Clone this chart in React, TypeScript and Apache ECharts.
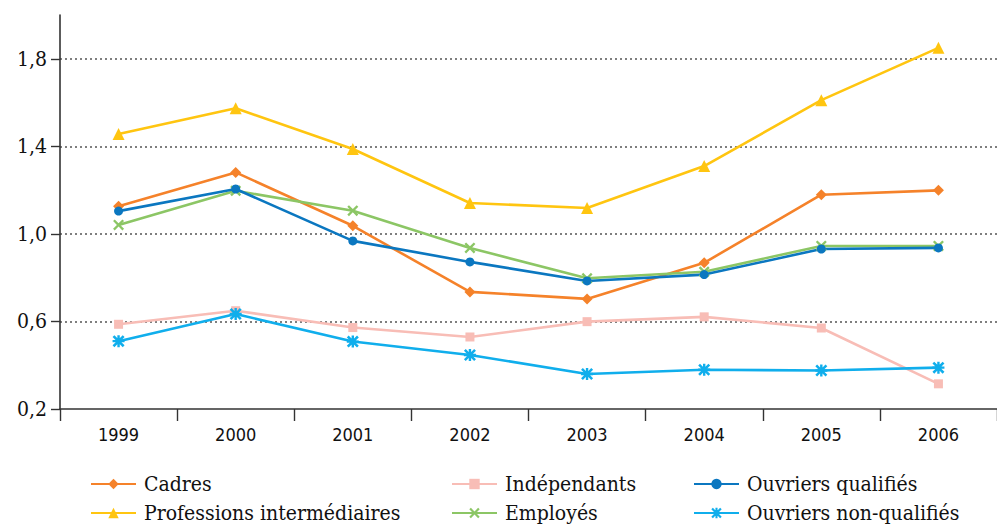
import { useEffect, useRef } from 'react';
import * as echarts from 'echarts';

// Categories and series values
const years = ['1999', '2000', '2001', '2002', '2003', '2004', '2005', '2006'];
const cadres = [1.126, 1.281, 1.037, 0.735, 0.703, 0.868, 1.179, 1.199];
const professions = [1.456, 1.574, 1.388, 1.141, 1.118, 1.31, 1.611, 1.85];
const independants = [0.587, 0.649, 0.572, 0.529, 0.599, 0.621, 0.57, 0.315];
const employes = [1.041, 1.197, 1.106, 0.936, 0.797, 0.827, 0.945, 0.945];
const ouvriersQualifies = [1.104, 1.205, 0.968, 0.872, 0.785, 0.814, 0.931, 0.936];
const ouvriersNonQualifies = [0.51, 0.634, 0.508, 0.447, 0.36, 0.379, 0.376, 0.389];

// Value axis: labelled ticks and the axis top
const yTicks = [0.2, 0.6, 1.0, 1.4, 1.8];
const yMax = 2.0;

const crossPath =
  'path://M0,1.5 L1.5,0 L5,3.5 L8.5,0 L10,1.5 L6.5,5 L10,8.5 L8.5,10 L5,6.5 L1.5,10 L0,8.5 L3.5,5 Z';
const asteriskPath =
  'path://M0,1.5 L1.5,0 L5,3.5 L8.5,0 L10,1.5 L6.5,5 L10,8.5 L8.5,10 L5,6.5 L1.5,10 L0,8.5 L3.5,5 Z ' +
  'M4,0 L6,0 L6,4 L10,4 L10,6 L6,6 L6,10 L4,10 L4,6 L0,6 L0,4 L4,4 Z';

const serifFont = '"DejaVu Serif Condensed", "DejaVu Serif", serif';
const sansFont = '"DejaVu Sans Condensed", "DejaVu Sans", sans-serif';

function lineSeries(name: string, data: number[], color: string, symbol: string, size: number) {
  return {
    name,
    type: 'line',
    data,
    symbol,
    symbolSize: size,
    showAllSymbol: true,
    lineStyle: { color, width: 2.6 },
    itemStyle: { color, borderWidth: 0 },
    emphasis: { disabled: true },
  };
}

export default function App() {
  const ref = useRef<HTMLDivElement>(null);

  useEffect(() => {
    if (!ref.current) return;
    const chart = echarts.init(ref.current, undefined, { renderer: 'svg' });

    const legendBase = {
      orient: 'vertical',
      top: 473,
      height: 60,
      padding: 0,
      itemWidth: 45,
      itemHeight: 13,
      itemGap: 7,
      selectedMode: false,
      textStyle: {
        fontFamily: serifFont,
        fontSize: 21,
        color: '#111',
        lineHeight: 22,
        padding: [0, 0, 0, 3],
      },
    };

    // one colour per split line: hidden at the axis bottom and at the top edge
    const gridColor = '#555';
    const splitColors = yTicks.map((_, i) => (i === 0 ? 'rgba(0,0,0,0)' : gridColor));
    splitColors.push('rgba(0,0,0,0)');

    chart.setOption({
      animation: false,
      backgroundColor: '#ffffff',
      grid: { left: 60, top: 15, width: 945, height: 394 },
      legend: [
        { ...legendBase, left: 90, data: ['Cadres', 'Professions intermédiaires'] },
        { ...legendBase, left: 451, data: ['Indépendants', 'Employés'] },
        { ...legendBase, left: 693, data: ['Ouvriers qualifiés', 'Ouvriers non-qualifiés'] },
      ],
      xAxis: {
        type: 'category',
        data: years,
        boundaryGap: true,
        axisLine: { lineStyle: { color: '#333', width: 1.6 } },
        axisTick: { show: true, length: 12, lineStyle: { color: '#333', width: 1.4 } },
        axisLabel: {
          margin: 16,
          fontFamily: sansFont,
          fontSize: 18,
          color: '#111',
        },
      },
      yAxis: {
        type: 'value',
        min: yTicks[0],
        max: yMax,
        interval: yTicks[1] - yTicks[0],
        axisLine: { show: true, lineStyle: { color: '#333', width: 1.6 } },
        axisTick: {
          show: true,
          length: 9,
          customValues: yTicks,
          lineStyle: { color: '#333', width: 1.4 },
        },
        axisLabel: {
          margin: 13,
          customValues: yTicks,
          fontFamily: serifFont,
          fontSize: 21,
          color: '#111',
          formatter: (v: number) => v.toFixed(1).replace('.', ','),
        },
        splitLine: {
          show: true,
          lineStyle: { color: splitColors, type: [2, 3], width: 1.5 },
        },
      },
      series: [
        lineSeries('Cadres', cadres, '#F5822A', 'diamond', 11),
        lineSeries('Professions intermédiaires', professions, '#FFC510', 'triangle', 12),
        lineSeries('Indépendants', independants, '#F8BDB6', 'rect', 9),
        lineSeries('Employés', employes, '#8CC665', crossPath, 11),
        lineSeries('Ouvriers qualifiés', ouvriersQualifies, '#0B77C0', 'circle', 9),
        lineSeries('Ouvriers non-qualifiés', ouvriersNonQualifies, '#10AEEC', asteriskPath, 12),
      ],
    });

    return () => chart.dispose();
  }, []);

  return (
    <div
      ref={ref}
      style={{ position: 'fixed', left: 0, top: 0, width: 997, height: 524 }}
    />
  );
}
